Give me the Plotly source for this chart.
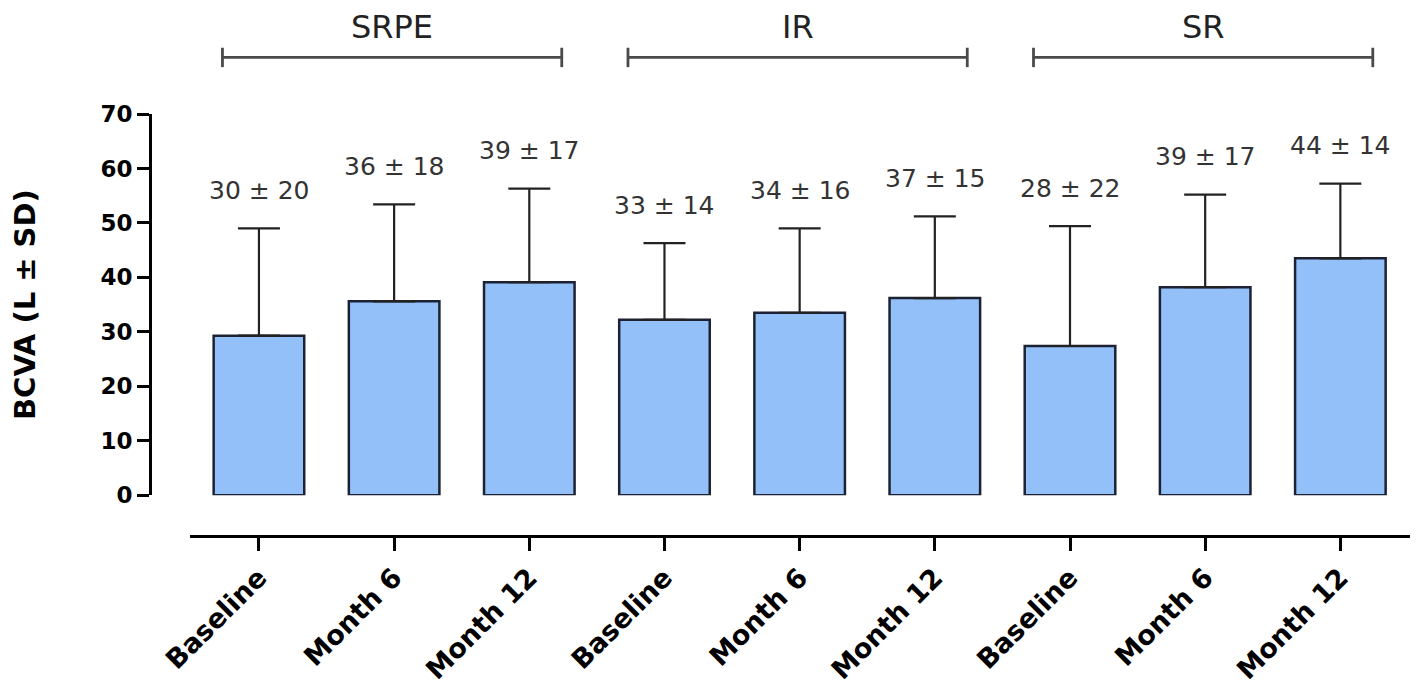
import plotly.graph_objects as go

# categories / groups
timepoints = ["Baseline", "Month 6", "Month 12",
              "Baseline", "Month 6", "Month 12",
              "Baseline", "Month 6", "Month 12"]
groups = ["SRPE", "IR", "SR"]
group_size = 3

# bar heights and SD
bcva_mean = [29.3, 35.6, 39.1, 32.2, 33.5, 36.2, 27.4, 38.2, 43.5]
bcva_sd = [19.7, 17.8, 17.2, 14.1, 15.5, 15.0, 22.0, 17.0, 13.7]

# values printed above bars
label_mean = [30, 36, 39, 33, 34, 37, 28, 39, 44]
label_sd = [20, 18, 17, 14, 16, 15, 22, 17, 14]

FONT = "DejaVu Sans"
xpos = list(range(len(timepoints)))

fig = go.Figure()

fig.add_trace(go.Bar(
    x=xpos,
    y=bcva_mean,
    width=0.67,
    marker=dict(color='#93C0F9', line=dict(color='#1c2233', width=2.5)),
    error_y=dict(type='data', array=bcva_sd, arrayminus=[0] * len(bcva_sd),
                 symmetric=False, color='#222222', thickness=2.2, width=21),
    hovertemplate='%{y:.1f}<extra></extra>',
    showlegend=False
))

# mean ± SD labels above the error bars
for i in xpos:
    fig.add_annotation(
        x=i, y=bcva_mean[i] + bcva_sd[i], xref='x', yref='y',
        text=f"{label_mean[i]} ± {label_sd[i]}",
        showarrow=False, yanchor='middle', yshift=38,
        font=dict(family=FONT, size=25, color='#333333')
    )

# group brackets on top
bracket_y = 1.134
for g, name in enumerate(groups):
    x0 = g * group_size - 0.27
    x1 = (g + 1) * group_size - 1 + 0.24
    line = dict(color='#4a4a4a', width=2.8)
    fig.add_shape(type='line', xref='x', yref='paper', x0=x0, x1=x1,
                  y0=bracket_y, y1=bracket_y, line=line)
    for xe in (x0, x1):
        fig.add_shape(type='line', xref='x', yref='paper', x0=xe, x1=xe,
                      y0=bracket_y - 0.023, y1=bracket_y + 0.023, line=line)
    fig.add_annotation(x=(x0 + x1) / 2, y=1.205, xref='x', yref='paper',
                       text=name, showarrow=False, yanchor='middle',
                       font=dict(family=FONT, size=32, color='#222222'))

# page body has an 8px margin, so the figure is a bit smaller than the window
fig.update_layout(
    width=1410, height=683,
    margin=dict(l=142, r=6, t=106, b=153),
    plot_bgcolor='white', paper_bgcolor='white',
    font=dict(family=FONT, color='black'),
    xaxis=dict(
        domain=[0.0317, 1], anchor='free', position=0,
        range=[-0.51, 8.53],
        tickmode='array', tickvals=xpos, ticktext=timepoints,
        tickangle=-45,
        tickfont=dict(family=FONT, size=27, color='black', weight='bold'),
        ticks='outside', ticklen=13, tickwidth=3, tickcolor='black',
        showline=True, linewidth=3, linecolor='black',
        showgrid=False, zeroline=False
    ),
    yaxis=dict(
        domain=[0.0967, 1], anchor='free', position=0,
        range=[0, 70], tickmode='linear', tick0=0, dtick=10,
        tickfont=dict(family=FONT, size=23, color='black', weight='bold'),
        ticks='outside', ticklen=12, tickwidth=3, tickcolor='black',
        showline=True, linewidth=3, linecolor='black',
        showgrid=False, zeroline=False,
        title=dict(text="BCVA (L ± SD)", standoff=66,
                   font=dict(family=FONT, size=29, color='black', weight='bold'))
    )
)

fig.write_html("out.html")
